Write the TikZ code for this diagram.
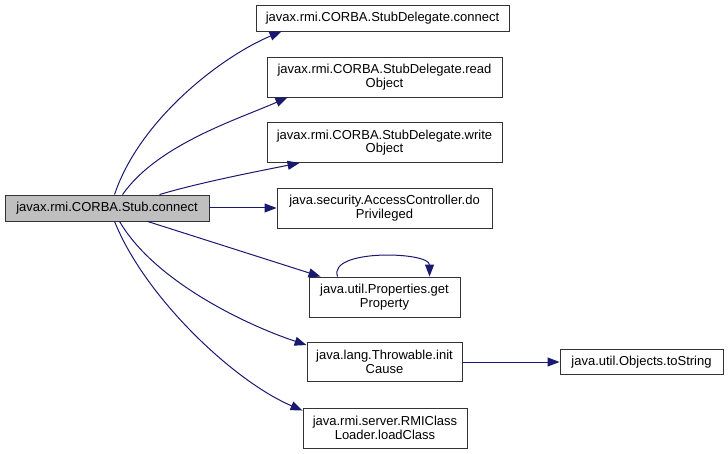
\documentclass[tikz,border=0pt]{standalone}
\usepackage{fontspec}
\setmainfont{Liberation Sans}
\usetikzlibrary{arrows.meta}
\definecolor{edgec}{HTML}{191970}
\definecolor{hl}{HTML}{BFBFBF}
\begin{document}
\begin{tikzpicture}[x=1pt,y=-1pt,
  box/.style={draw=black!80,line width=0.9pt,fill=white,inner sep=0pt,align=center,
    font=\fontsize{13}{13.5}\selectfont,anchor=center},
  edge/.style={draw=edgec,line width=1pt,-{Triangle[length=12pt,width=9pt]}}]
\useasboundingbox (0,0) rectangle (728,454);
\node[box,fill=hl,minimum width=204pt,minimum height=26pt] (sc) at (107,208) {javax.rmi.CORBA.Stub.connect};
\node[box,minimum width=253pt,minimum height=26pt] (sdc) at (382.5,18) {javax.rmi.CORBA.StubDelegate.connect};
\node[box,minimum width=235pt,minimum height=40pt] (sdr) at (384.5,77) {javax.rmi.CORBA.StubDelegate.read\\Object};
\node[box,minimum width=235pt,minimum height=40pt] (sdw) at (384.5,142.5) {javax.rmi.CORBA.StubDelegate.write\\Object};
\node[box,minimum width=215pt,minimum height=40pt] (ac) at (384.5,208) {java.security.AccessController.do\\Privileged};
\node[box,minimum width=151pt,minimum height=40pt] (pg) at (384.5,297) {java.util.Properties.get\\Property};
\node[box,minimum width=155pt,minimum height=39pt] (ti) at (384.5,362) {java.lang.Throwable.init\\Cause};
\node[box,minimum width=163pt,minimum height=25pt] (ots) at (641.5,362) {java.util.Objects.toString};
\node[box,minimum width=164pt,minimum height=40pt] (rmi) at (385,428) {java.rmi.server.RMIClass\\Loader.loadClass};

\draw[edge] ([xshift=110pt]sc.north west) .. controls +(25,-75) and +(-60,25) .. ([xshift=26pt]sdc.south west);
\draw[edge] ([xshift=118pt]sc.north west) .. controls +(35,-50) and +(-50,22) .. ([xshift=21pt]sdr.south west);
\draw[edge] ([xshift=155pt]sc.north west) .. controls +(40,-12) and +(-40,8) .. ([xshift=33pt]sdw.south west);
\draw[edge] (sc.east) -- (ac.west);
\draw[edge] ([xshift=143pt]sc.south west) -- ([xshift=12pt]pg.north west);
\draw[edge] ([xshift=115pt]sc.south west) .. controls +(35,60) and +(-60,-20) .. ([xshift=0pt,yshift=-3pt]ti.north west);
\draw[edge] ([xshift=110pt]sc.south west) .. controls +(30,75) and +(-70,-30) .. ([xshift=0pt,yshift=-3pt]rmi.north west);
\draw[edge] ([xshift=29pt]pg.north west) .. controls +(-10,-28) and +(0,-25) .. ([xshift=121pt]pg.north west);
\draw[edge] (ti.east) -- (ots.west);
\end{tikzpicture}
\end{document}
